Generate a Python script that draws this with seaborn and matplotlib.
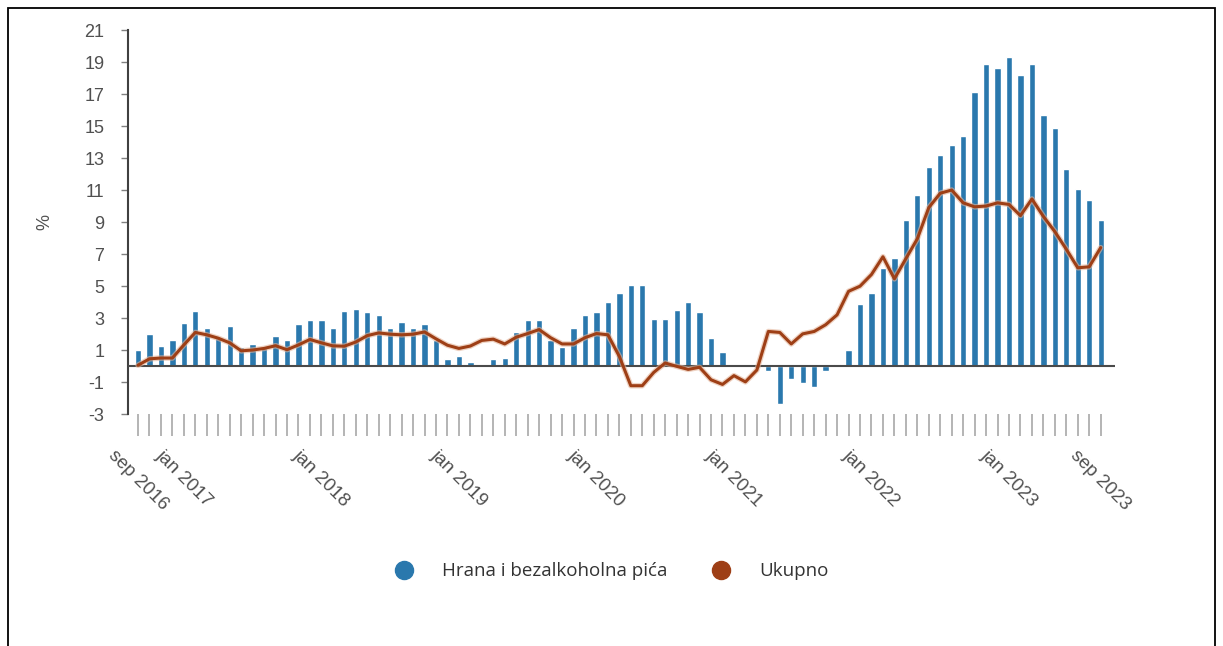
import numpy as np
import pandas as pd
import matplotlib
matplotlib.use("Agg")
import matplotlib.pyplot as plt
import matplotlib.patches as mpatches
import matplotlib.patheffects as pe
from matplotlib.lines import Line2D
import seaborn as sns

# monthly series, sep 2016 .. sep 2023 (y/y %)
months = pd.date_range("2016-09-01", "2023-09-01", freq="MS")
month_labels = [m.strftime("%b %Y").lower() for m in months]

food = [1.0, 2.0, 1.25, 1.6, 2.7, 3.45, 2.35, 1.75, 2.5, 1.2, 1.35, 1.1,
        1.9, 1.6, 2.6, 2.85, 2.85, 2.35, 3.45, 3.55, 3.35, 3.2, 2.35, 2.75,
        2.4, 2.65, 1.65, 0.42, 0.63, 0.27, 0.05, 0.42, 0.52, 2.1, 2.85, 2.85,
        1.65, 1.22, 2.35, 3.2, 3.35, 3.98, 4.57, 5.05, 5.05, 2.97, 2.97, 3.48,
        3.98, 3.35, 1.74, 0.9, 0.0, 0.0, -0.1, -0.3, -2.4, -0.82, -1.03, -1.3,
        -0.31, 0.15, 1.0, 3.88, 4.57, 6.14, 6.77, 9.14, 10.7, 12.43, 13.17, 13.8,
        14.4, 17.1, 18.9, 18.6, 19.3, 18.2, 18.9, 15.7, 14.9, 12.3, 11.07, 10.38,
        9.12]

total = [0.05, 0.45, 0.5, 0.5, 1.32, 2.1, 1.95, 1.74, 1.45, 0.95, 1.0, 1.1,
         1.27, 1.02, 1.32, 1.66, 1.45, 1.26, 1.24, 1.5, 1.9, 2.07, 1.99, 1.95,
         1.99, 2.13, 1.7, 1.3, 1.1, 1.25, 1.6, 1.68, 1.38, 1.8, 2.03, 2.28,
         1.77, 1.38, 1.38, 1.77, 2.03, 1.95, 0.6, -1.23, -1.23, -0.4, 0.19, -0.02,
         -0.21, -0.08, -0.86, -1.15, -0.6, -0.99, -0.25, 2.16, 2.1, 1.38, 2.01, 2.16,
         2.58, 3.2, 4.67, 4.99, 5.72, 6.83, 5.45, 6.71, 7.95, 9.9, 10.8, 11.0,
         10.2, 9.95, 10.0, 10.2, 10.1, 9.4, 10.44, 9.35, 8.4, 7.3, 6.14, 6.2,
         7.4]

shown_labels = ["sep 2016", "jan 2017", "jan 2018", "jan 2019", "jan 2020",
                "jan 2021", "jan 2022", "jan 2023", "sep 2023"]
y_ticks = list(range(-3, 22, 2))
series_names = ["Hrana i bezalkoholna pića", "Ukupno"]

BLUE = "#2a78ad"
BROWN = "#9e3f16"
GREY_TXT = "#505050"

sns.set_theme(style="white")
plt.rcParams["font.family"] = ["Liberation Sans", "DejaVu Sans"]

df = pd.DataFrame({"month": month_labels, "food": food, "total": total})
df["pos"] = np.arange(len(df))

fig = plt.figure(figsize=(12.23, 6.46), dpi=100)
ax = fig.add_axes([0.1047, 0.3591, 0.8070, 0.5944])

sns.barplot(data=df, x="month", y="food", color=BLUE, saturation=1,
            width=0.55, ax=ax, zorder=2)
sns.lineplot(data=df, x="pos", y="total", color=BROWN, linewidth=2.2,
             sort=False, ax=ax, zorder=4,
             path_effects=[pe.Stroke(linewidth=4.0, foreground="#e3b49a", alpha=0.6),
                           pe.Normal()])

ax.axhline(0, color="#4a4a4a", linewidth=1.5, zorder=3)

ax.set_xlim(-0.87, 85.25)
ax.set_ylim(-3, 21)
ax.set_yticks(y_ticks)
ax.set_yticklabels([str(t) for t in y_ticks])
ax.set_xticks(df["pos"])
ax.set_xticklabels([m if m in shown_labels else "" for m in month_labels],
                   rotation=-45, ha="center")
ax.set_xlabel("")
ax.set_ylabel("")

for s in ["top", "right", "bottom"]:
    ax.spines[s].set_visible(False)
ax.spines["left"].set_color("#404040")
ax.spines["left"].set_linewidth(1.5)

ax.tick_params(axis="x", direction="out", length=16, width=1.2, color="#a8a8a8",
               pad=8, labelsize=13.5, labelcolor=GREY_TXT, bottom=True)
ax.tick_params(axis="y", direction="out", length=5, width=1, color="#808080",
               pad=12, labelsize=13, labelcolor=GREY_TXT, left=True)

fig.text(45 / 1223, 1 - 222 / 646, "%", rotation=90, ha="center", va="center",
         fontsize=13, color=GREY_TXT)

handles = [Line2D([], [], marker="o", linestyle="", markersize=13,
                  color=c) for c in [BLUE, BROWN]]
fig.legend(handles, series_names, loc="center", bbox_to_anchor=(0.5, 0.116),
           ncol=2, frameon=False, handlelength=1.0, handletextpad=1.5,
           columnspacing=2.4, labelcolor="#333333",
           prop={"family": ["Open Sans", "DejaVu Sans"], "size": 13.5})

# outer frame
fig.add_artist(mpatches.Rectangle((8 / 1223, -0.1), 1207 / 1223, 1 - 8 / 646 + 0.1,
                                  transform=fig.transFigure, fill=False,
                                  edgecolor="black", linewidth=1.3))

fig.savefig("out.png", dpi=100, facecolor="white")
